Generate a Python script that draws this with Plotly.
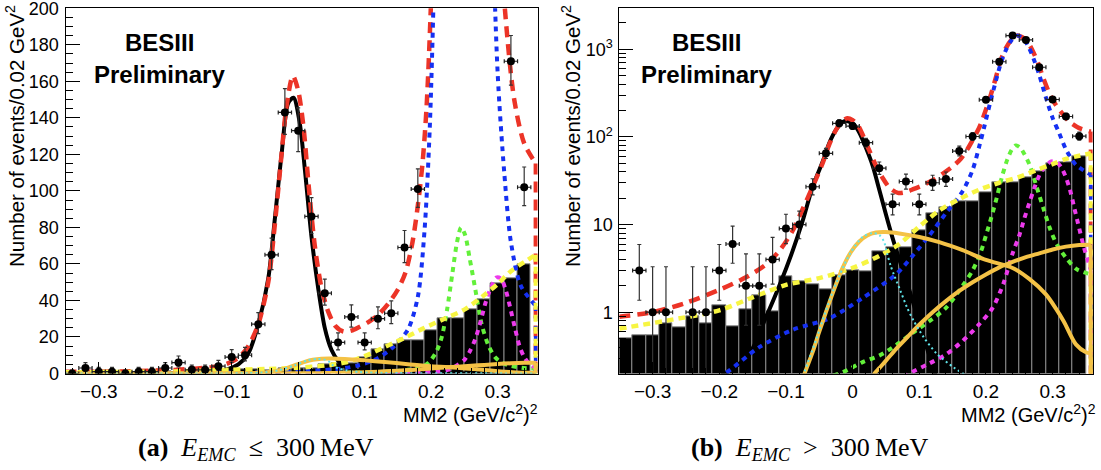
import plotly.graph_objects as go

# ---------------- data ----------------
bin_centers = [-0.34, -0.32, -0.30, -0.28, -0.26, -0.24, -0.22, -0.20, -0.18, -0.16,
               -0.14, -0.12, -0.10, -0.08, -0.06, -0.04, -0.02, 0.00, 0.02, 0.04,
               0.06, 0.08, 0.10, 0.12, 0.14, 0.16, 0.18, 0.20, 0.22, 0.24,
               0.26, 0.28, 0.30, 0.32, 0.34]
data_counts = [0, 3, 1, 1, 0, 1, 1, 3, 6, 2,
               2, 4, 9, 10, 27, 65, 143, 133, 86, 44,
               17, 31, 17, 30, 33, 69, 101, 265, 720, 1430,
               1277, 623, 267, 171, 102]
err_low = [0, 1.63, 0.83, 0.83, 0, 0.83, 0.83, 1.63, 2.38, 1.29,
           1.29, 1.91, 2.94, 3.11, 5.2, 8.1, 12.0, 11.5, 9.3, 6.6,
           4.1, 5.6, 4.1, 5.5, 5.7, 8.3, 10.0, 16.3, 26.8, 37.8,
           35.7, 25.0, 16.3, 13.1, 10.1]
err_high = [1.84, 2.92, 2.30, 2.30, 1.84, 2.30, 2.30, 2.92, 3.58, 2.64,
            2.64, 3.16, 4.11, 4.27, 6.3, 9.1, 13.0, 12.5, 10.3, 7.7,
            5.2, 6.6, 5.2, 6.5, 6.8, 9.3, 11.1, 17.3, 27.8, 38.8,
            36.7, 26.0, 17.4, 14.1, 11.1]
bin_halfwidth = [0.01] * 35
bkg_hist = [0.50, 0.55, 0.55, 0.74, 0.67, 0.90, 0.74, 1.19, 0.69, 1.09,
            1.58, 1.02, 2.57, 2.26, 2.10, 1.83, 2.62, 3.04, 2.94, 4.9,
            5.5, 5.5, 8.7, 13.5, 15.8, 18.3, 18.3, 23.5, 30.5, 30.5,
            35.0, 40.6, 49.5, 52.0, 60.0]

black_x = [-0.35, -0.16, -0.13, -0.11, -0.09, -0.075, -0.06, -0.045, -0.035, -0.025,
           -0.015, -0.007, 0.002, 0.01, 0.02, 0.03, 0.04, 0.05, 0.06, 0.07,
           0.085, 0.10, 0.12, 0.15, 0.3575]
black_y = [0.05, 0.3, 0.88, 2.0, 5.0, 11, 27, 52, 85, 120,
           148, 151, 138, 112, 75, 47, 25, 13, 7, 4,
           1.8, 0.75, 0.25, 0.07, 0.05]

red_x = [-0.35, -0.30, -0.25, -0.20, -0.16, -0.13, -0.11, -0.09, -0.075, -0.06,
         -0.045, -0.035, -0.025, -0.018, -0.008, 0.0, 0.008, 0.016, 0.025, 0.035,
         0.045, 0.056, 0.068, 0.08, 0.092, 0.105, 0.12, 0.135, 0.15, 0.162,
         0.172, 0.18, 0.187, 0.193, 0.199, 0.206, 0.214, 0.222, 0.23, 0.238,
         0.246, 0.254, 0.262, 0.27, 0.278, 0.286, 0.294, 0.302, 0.312, 0.325,
         0.34, 0.3575]
red_y = [0.89, 1.0, 1.28, 1.8, 2.5, 3.5, 5.0, 8.5, 15, 27,
         50, 82, 120, 145, 163, 155, 135, 102, 70, 47,
         34, 26, 23, 23.5, 25.5, 28, 32, 38, 46, 56,
         72, 92, 115, 145, 195, 280, 450, 740, 1030, 1280,
         1430, 1380, 1230, 960, 700, 470, 330, 250, 195, 150,
         126, 115]

blue_x = [-0.35, -0.20, -0.14, -0.09, -0.035, 0.015, 0.065, 0.09, 0.115, 0.14,
          0.165, 0.18, 0.19, 0.198, 0.206, 0.214, 0.222, 0.23, 0.238, 0.247,
          0.256, 0.264, 0.272, 0.28, 0.29, 0.30, 0.31, 0.32, 0.335, 0.3575]
blue_y = [0.05, 0.18, 0.40, 0.63, 0.85, 1.45, 2.7, 4.4, 7.5, 13.5,
          24, 42, 78, 135, 240, 410, 680, 980, 1260, 1430,
          1320, 1060, 760, 510, 280, 165, 110, 72, 48, 37]

green_x = [-0.35, -0.02, 0.015, 0.04, 0.065, 0.09, 0.115, 0.14, 0.165, 0.18,
           0.192, 0.2, 0.208, 0.216, 0.224, 0.232, 0.239, 0.245, 0.251, 0.258,
           0.266, 0.276, 0.286, 0.296, 0.306, 0.32, 0.336, 0.3575]
green_y = [0.05, 0.2, 0.27, 0.32, 0.42, 0.58, 0.79, 1.12, 2.0, 3.0,
           4.8, 7.5, 12, 20, 35, 55, 72, 80, 76, 63,
           47, 27, 15.5, 9, 6, 4.2, 3.1, 2.7]

magenta_x = [-0.35, 0.06, 0.085, 0.115, 0.14, 0.165, 0.19, 0.21, 0.226, 0.24,
             0.25, 0.258, 0.266, 0.274, 0.282, 0.29, 0.298, 0.305, 0.312, 0.319,
             0.326, 0.333, 0.34, 0.347, 0.3575]
magenta_y = [0.05, 0.15, 0.2, 0.26, 0.33, 0.47, 0.73, 1.12, 2.1, 4.7,
             7.5, 12, 18.5, 28, 39, 47, 52.5, 52, 46, 36,
             25, 15, 9, 5.5, 3]

yellow_x = [-0.35, -0.28, -0.20, -0.15, -0.10, -0.05, 0.0, 0.04, 0.07, 0.10,
            0.13, 0.16, 0.19, 0.22, 0.25, 0.28, 0.30, 0.32, 0.34, 0.3575]
yellow_y = [0.65, 0.80, 1.05, 1.48, 2.05, 2.45, 3.2, 4.4, 6.0, 9.5,
            14.5, 19.5, 25, 30, 35, 43, 49, 56, 61, 65]

orange1_x = [-0.35, -0.09, -0.072, -0.06, -0.05, -0.04, -0.028, -0.015, -0.003, 0.01,
             0.022, 0.035, 0.05, 0.07, 0.10, 0.13, 0.165, 0.2, 0.24, 0.265,
             0.29, 0.305, 0.317, 0.335, 0.35, 0.3575]
orange1_y = [0.05, 0.08, 0.2, 0.35, 0.6, 1.0, 1.8, 3.2, 4.8, 6.4,
             7.5, 8.1, 8.2, 7.9, 7.2, 6.3, 5.1, 3.95, 3.2, 2.4,
             1.6, 1.1, 0.78, 0.43, 0.35, 0.34]

orange2_x = [-0.35, 0.0, 0.033, 0.04, 0.05, 0.065, 0.08, 0.10, 0.12, 0.14,
             0.16, 0.18, 0.20, 0.22, 0.24, 0.26, 0.28, 0.30, 0.32, 0.34, 0.3575]
orange2_y = [0.05, 0.07, 0.2, 0.23, 0.28, 0.38, 0.5, 0.72, 1.0, 1.34,
             1.75, 2.2, 2.7, 3.25, 3.75, 4.25, 4.7, 5.2, 5.6, 5.85, 5.9]

cyan_x = [-0.35, -0.09, -0.073, -0.055, -0.03, -0.005, 0.015, 0.03, 0.04, 0.047,
          0.052, 0.057, 0.0615, 0.0715, 0.0815, 0.0915, 0.1065, 0.1265, 0.1515, 0.17,
          0.2, 0.3575]
cyan_y = [0.05, 0.08, 0.2, 0.48, 1.7, 4.5, 7.2, 8.0, 7.6, 6.4,
          4.6, 3.4, 2.74, 1.77, 1.14, 0.80, 0.52, 0.335, 0.235, 0.19,
          0.13, 0.05]

curve_floor = 0.05

x_tick_vals = [-0.3, -0.2, -0.1, 0.0, 0.1, 0.2, 0.3]
x_tick_text = ["\u22120.3", "\u22120.2", "\u22120.1", "0", "0.1", "0.2", "0.3"]
lin_tick_vals = [0, 20, 40, 60, 80, 100, 120, 140, 160, 180, 200]
log_tick_vals = [1, 10, 100, 1000]
log_tick_text = ["1", "10", "10<sup>2</sup>", "10<sup>3</sup>"]
log_minor_vals = [0.2, 0.3, 0.4, 0.5, 0.6, 0.7, 0.8, 0.9,
                  2, 3, 4, 5, 6, 7, 8, 9,
                  20, 30, 40, 50, 60, 70, 80, 90,
                  200, 300, 400, 500, 600, 700, 800, 900, 2000]

# ---------------- styles ----------------
curves = [
    (black_x, black_y, dict(color="black", width=4)),
    (red_x, red_y, dict(color="#ec3427", width=4.5, dash="11px,7px")),
    (green_x, green_y, dict(color="#63f03a", width=4, dash="5px,5px")),
    (magenta_x, magenta_y, dict(color="#ec3aec", width=4, dash="5px,5px")),
    (blue_x, blue_y, dict(color="#1530f2", width=4, dash="5px,5px")),
    (yellow_x, yellow_y, dict(color="#f7f542", width=4.5, dash="7px,5px")),
    (orange1_x, orange1_y, dict(color="#f4c246", width=4)),
    (orange2_x, orange2_y, dict(color="#f4c246", width=4)),
    (cyan_x, cyan_y, dict(color="#5fe3e8", width=2, dash="2px,3px")),
]

W, H = 1101, 470
def px_x(p):
    return p / W
def px_y(p):
    return 1 - p / H

fig = go.Figure()

panels = [("x", "y", False), ("x2", "y2", True)]
for xa, ya, is_log in panels:
    fig.add_trace(go.Bar(x=bin_centers, y=bkg_hist, width=0.02,
                         marker=dict(color="black", line=dict(color="#8a8a8a", width=1)),
                         xaxis=xa, yaxis=ya, showlegend=False, hoverinfo="skip"))
    for cx, cy, ln in curves:
        fig.add_trace(go.Scatter(x=cx, y=cy, mode="lines", line=dict(shape="spline", smoothing=0.8, **ln),
                                 xaxis=xa, yaxis=ya, showlegend=False, hoverinfo="skip"))
        if cy[-1] > curve_floor:
            fig.add_trace(go.Scatter(x=[cx[-1], cx[-1]], y=[cy[-1], curve_floor], mode="lines",
                                     line=dict(ln), xaxis=xa, yaxis=ya, showlegend=False, hoverinfo="skip"))
    if is_log:
        idx = [i for i, c in enumerate(data_counts) if c > 0]
    else:
        idx = list(range(len(data_counts)))
    fig.add_trace(go.Scatter(
        x=[bin_centers[i] for i in idx], y=[data_counts[i] for i in idx], mode="markers",
        marker=dict(color="black", size=8),
        error_x=dict(type="data", array=[bin_halfwidth[i] for i in idx], color="#222", thickness=1.2, width=2),
        error_y=dict(type="data", symmetric=False, array=[err_high[i] for i in idx],
                     arrayminus=[err_low[i] for i in idx], color="#333", thickness=1.2, width=2),
        xaxis=xa, yaxis=ya, showlegend=False, hoverinfo="skip"))

sans = "Liberation Sans, Arial, Helvetica, sans-serif"
serif = "Liberation Serif, Times New Roman, serif"
tickfont = dict(family=sans, size=18, color="black")
common_x = dict(range=[-0.35, 0.36], tickvals=x_tick_vals, ticktext=x_tick_text, ticks="inside",
                ticklen=12, tickwidth=1, tickcolor="black", showline=True, linecolor="black",
                linewidth=1, mirror=True, showgrid=False, zeroline=False, automargin=False,
                tickfont=dict(tickfont, size=19), ticklabelstandoff=1, ticklabeloverflow="allow",
                minor=dict(dtick=0.02, tick0=0, ticks="inside", ticklen=6, tickcolor="black"))
common_y = dict(ticks="inside", ticklen=14, tickwidth=1, tickcolor="black", showline=True,
                linecolor="black", linewidth=1, mirror=True, showgrid=False, zeroline=False,
                automargin=False, tickfont=tickfont, ticklabeloverflow="allow", ticklabelstandoff=2)

fig.update_layout(
    width=W, height=H, margin=dict(l=0, r=0, t=0, b=0, autoexpand=False),
    paper_bgcolor="white", plot_bgcolor="white",
    barmode="overlay", bargap=0, showlegend=False,
    xaxis=dict(common_x, domain=[px_x(65.5), px_x(537.5)], anchor="y"),
    xaxis2=dict(common_x, domain=[px_x(619.3), px_x(1092.6)], anchor="y2"),
    yaxis=dict(common_y, domain=[px_y(373.5), px_y(8.3)], range=[0, 200], tickvals=lin_tick_vals,
               anchor="x",
               minor=dict(dtick=5, tick0=0, ticks="inside", ticklen=7, tickcolor="black")),
    yaxis2=dict(common_y, domain=[px_y(373.5), px_y(8.3)], type="log", range=[-0.699, 3.467],
                tickvals=log_tick_vals, ticktext=log_tick_text, anchor="x2",
                minor=dict(tickvals=log_minor_vals, ticks="inside", ticklen=7, tickcolor="black")),
)

ann = []
for x_title, x_right, bes_x, cap_x, cap_text in [
        (15, 540, 159, 136, "<b>(a)</b>\u2002<i>E</i><sub><i>EMC</i></sub>\u2002\u2264\u2002300\u2009MeV"),
        (571, 1098, 706, 689, "<b>(b)</b>\u2002<i>E</i><sub><i>EMC</i></sub>\u2002&gt;\u2002300\u2009MeV")]:
    ann.append(dict(text="Number of events/0.02 GeV<sup>2</sup>", textangle=-90, xref="paper", yref="paper",
                    x=px_x(x_title), y=px_y(3), xanchor="center", yanchor="top", showarrow=False,
                    font=dict(family=sans, size=20.5, color="black")))
    ann.append(dict(text="MM2 (GeV/c<sup>2</sup>)<sup>2</sup>", xref="paper", yref="paper",
                    x=px_x(x_right), y=px_y(413), xanchor="right", yanchor="middle", showarrow=False,
                    font=dict(family=sans, size=20, color="black")))
    ann.append(dict(text="<b>BESIII</b>", xref="paper", yref="paper", x=px_x(bes_x), y=px_y(42),
                    xanchor="center", yanchor="middle", showarrow=False,
                    font=dict(family=sans, size=24, color="black")))
    ann.append(dict(text="<b>Preliminary</b>", xref="paper", yref="paper", x=px_x(bes_x), y=px_y(74),
                    xanchor="center", yanchor="middle", showarrow=False,
                    font=dict(family=sans, size=24, color="black")))
    ann.append(dict(text=cap_text, xref="paper", yref="paper", x=px_x(cap_x), y=px_y(449),
                    xanchor="left", yanchor="middle", showarrow=False,
                    font=dict(family=serif, size=26, color="black")))
fig.update_layout(annotations=ann)

fig.write_html("out.html", config={"displayModeBar": False},
               post_script="document.body.style.margin='0';document.body.style.overflow='hidden';")
